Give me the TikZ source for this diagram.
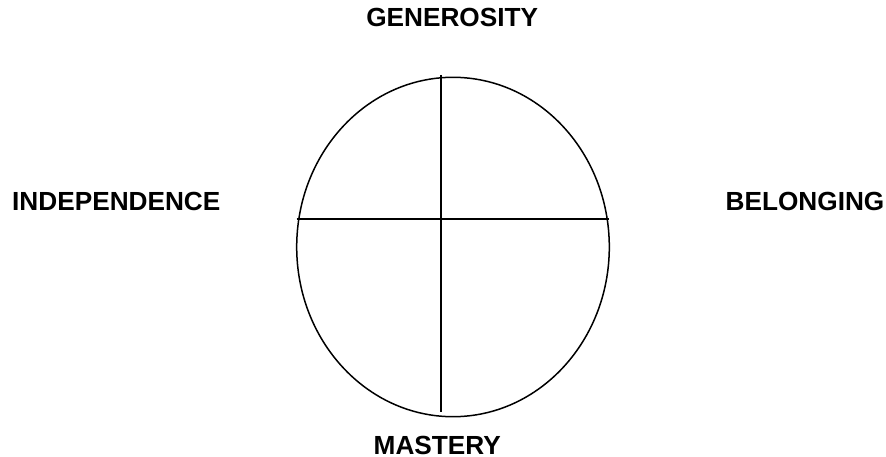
\documentclass[tikz,border=0pt]{standalone}
\usepackage{fontspec}
\setmainfont{Liberation Sans}
\usetikzlibrary{shapes.geometric}
\begin{document}
\begin{tikzpicture}[x=1pt,y=-1pt,
  lbl/.style={anchor=base,inner sep=0pt,font=\fontsize{26.2}{30}\selectfont\bfseries},
  stroke/.style={line width=1.5pt,black}]
\useasboundingbox (0,0) rectangle (886,457);
\node[stroke,draw,ellipse,inner sep=0pt,minimum width=312.6pt,minimum height=339.4pt] (circ) at (453,247) {};
\coordinate (vtop) at (441,75);
\coordinate (vbot) at (441,411.7);
\coordinate (hleft) at (296.7,219);
\coordinate (hright) at (609.3,219);
\draw[stroke] (vtop) -- (vbot);
\draw[stroke] (hleft) -- (hright);
\node[lbl] (gen) at (452.2,26.7) {GENEROSITY};
\node[lbl] (ind) at (116.3,210.5) {INDEPENDENCE};
\node[lbl] (bel) at (805,210.3) {BELONGING};
\node[lbl] (mas) at (437.3,454) {MASTERY};
\end{tikzpicture}
\end{document}
